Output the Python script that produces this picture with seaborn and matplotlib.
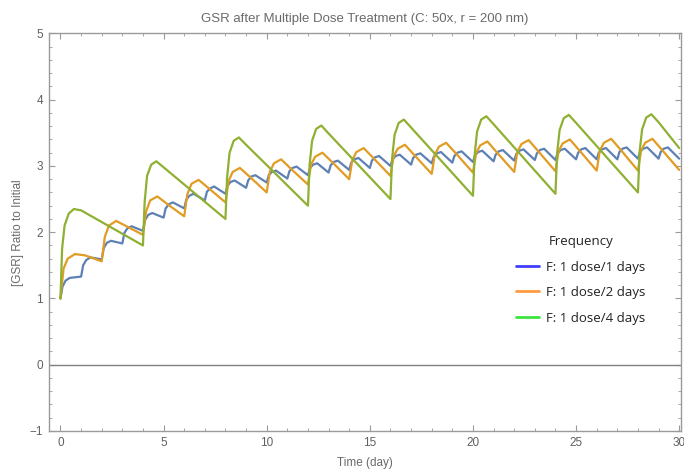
import matplotlib
matplotlib.use("Agg")
import matplotlib.pyplot as plt
from matplotlib.lines import Line2D
from matplotlib.ticker import MultipleLocator
import seaborn as sns
import pandas as pd

# --- values (GSR ratio vs time in days) ---
labels = ["F: 1 dose/1 days", "F: 1 dose/2 days", "F: 1 dose/4 days"]

# daily dosing: samples at dose time, +0.1, +0.25, +0.45 day, one row per day
blue_offsets = [0, 0.1, 0.25, 0.45]
blue_y = [
    1.00, 1.18, 1.27, 1.31,
    1.33, 1.50, 1.58, 1.62,
    1.59, 1.76, 1.84, 1.87,
    1.83, 1.99, 2.06, 2.09,
    2.02, 2.18, 2.26, 2.29,
    2.22, 2.36, 2.42, 2.45,
    2.36, 2.49, 2.55, 2.58,
    2.48, 2.61, 2.66, 2.69,
    2.58, 2.70, 2.76, 2.78,
    2.67, 2.78, 2.84, 2.86,
    2.75, 2.86, 2.91, 2.93,
    2.81, 2.92, 2.97, 2.99,
    2.86, 2.97, 3.02, 3.04,
    2.90, 3.01, 3.06, 3.08,
    2.94, 3.05, 3.10, 3.12,
    2.97, 3.08, 3.13, 3.15,
    3.00, 3.10, 3.15, 3.17,
    3.02, 3.12, 3.17, 3.19,
    3.04, 3.14, 3.19, 3.21,
    3.05, 3.15, 3.20, 3.22,
    3.06, 3.16, 3.21, 3.23,
    3.07, 3.17, 3.22, 3.24,
    3.08, 3.18, 3.23, 3.25,
    3.09, 3.19, 3.24, 3.26,
    3.09, 3.19, 3.24, 3.26,
    3.10, 3.20, 3.25, 3.27,
    3.10, 3.20, 3.25, 3.27,
    3.10, 3.21, 3.26, 3.28,
    3.11, 3.21, 3.26, 3.28,
    3.11, 3.21, 3.26, 3.28,
    3.11,
]

# dosing every 2 days: samples at dose, +0.15, +0.35, +0.7 (peak), +1.2
orange_offsets = [0, 0.15, 0.35, 0.7, 1.2]
orange_y = [
    1.00, 1.45, 1.60, 1.67, 1.65,
    1.56, 1.93, 2.10, 2.17, 2.09,
    1.96, 2.31, 2.48, 2.54, 2.42,
    2.24, 2.57, 2.73, 2.79, 2.66,
    2.45, 2.77, 2.91, 2.97, 2.83,
    2.60, 2.91, 3.04, 3.10, 2.95,
    2.72, 3.02, 3.14, 3.20, 3.05,
    2.80, 3.09, 3.21, 3.27, 3.11,
    2.85, 3.14, 3.26, 3.32, 3.15,
    2.88, 3.17, 3.29, 3.35, 3.18,
    2.90, 3.19, 3.31, 3.37, 3.19,
    2.91, 3.21, 3.33, 3.39, 3.21,
    2.92, 3.22, 3.34, 3.40, 3.22,
    2.93, 3.23, 3.35, 3.41, 3.23,
    2.93, 3.23, 3.35, 3.41, 3.23,
    2.94,
]

# dosing every 4 days: samples at dose, +0.08, +0.2, +0.4, +0.65 (peak), +1.0
green_offsets = [0, 0.08, 0.2, 0.4, 0.65, 1.0]
green_y = [
    1.00, 1.75, 2.10, 2.28, 2.35, 2.33,
    1.80, 2.45, 2.85, 3.02, 3.07, 2.98,
    2.20, 2.83, 3.20, 3.38, 3.43, 3.32,
    2.40, 3.02, 3.38, 3.56, 3.61, 3.49,
    2.50, 3.11, 3.47, 3.65, 3.70, 3.58,
    2.55, 3.16, 3.52, 3.70, 3.75, 3.63,
    2.58, 3.19, 3.54, 3.72, 3.77, 3.65,
    2.60, 3.21, 3.55, 3.73, 3.78, 3.66,
    3.27,
]

blue_t = [n + d for n in range(30) for d in blue_offsets] + [30]
orange_t = [n + d for n in range(0, 30, 2) for d in orange_offsets] + [30]
green_t = [n + d for n in range(0, 29, 4) for d in green_offsets] + [30]

line_colors = ["#5E81B5", "#E19C24", "#8FB032"]
legend_colors = ["#3F3FFF", "#FF9A40", "#3FE33F"]

df = pd.concat([
    pd.DataFrame({"t": blue_t, "y": blue_y, "Frequency": labels[0]}),
    pd.DataFrame({"t": orange_t, "y": orange_y, "Frequency": labels[1]}),
    pd.DataFrame({"t": green_t, "y": green_y, "Frequency": labels[2]}),
])

sns.set_style("ticks")
plt.rcParams["font.family"] = ["Liberation Sans", "DejaVu Sans"]

fig = plt.figure(figsize=(6.84, 4.71), dpi=100)
ax = fig.add_axes([0.0712, 0.085, 0.9248, 0.844])

sns.lineplot(data=df, x="t", y="y", hue="Frequency", palette=line_colors,
             linewidth=1.6, legend=False, ax=ax)

ax.axhline(0, color="#808080", lw=1.0, zorder=1)

ax.set_xlim(-0.57, 30.1)
ax.set_ylim(-1, 5)
ax.xaxis.set_major_locator(MultipleLocator(5))
ax.xaxis.set_minor_locator(MultipleLocator(1))
ax.yaxis.set_major_locator(MultipleLocator(1))
ax.yaxis.set_minor_locator(MultipleLocator(0.2))
ax.set_yticks([-1, 0, 1, 2, 3, 4, 5])
ax.set_yticklabels(["\u22121", "0", "1", "2", "3", "4", "5"])

for s in ax.spines.values():
    s.set_color("#9a9a9a")
    s.set_linewidth(1.0)
ax.tick_params(which="both", direction="in", top=True, right=True,
               color="#9a9a9a", labelcolor="#606060", labelsize=8.5)
ax.tick_params(which="major", length=4.5, width=0.8, pad=4)
ax.tick_params(which="minor", length=2.5, width=0.6)

ax.set_title("GSR after Multiple Dose Treatment (C: 50x, r = 200 nm)",
             fontsize=9.5, color="#6a6a6a", pad=8)
ax.set_xlabel("Time (day)", fontsize=8.5, color="#6a6a6a", labelpad=6)
ax.set_ylabel("[GSR] Ratio to Initial", fontsize=8.5, color="#6a6a6a", labelpad=4)

handles = [Line2D([], [], color=c, lw=2) for c in legend_colors]
leg = fig.legend(handles, labels, title="Frequency", frameon=False,
                 loc="upper left", bbox_to_anchor=(0.745, 0.515),
                 prop={"family": "Open Sans", "size": 9.5},
                 handlelength=1.75, handletextpad=0.5, labelspacing=0.95,
                 borderpad=0)
leg.get_title().set_fontfamily("Open Sans")
leg.get_title().set_fontsize(9.5)
leg.get_title().set_color("#222222")
for txt in leg.get_texts():
    txt.set_color("#222222")

fig.savefig("out.png", dpi=100)
